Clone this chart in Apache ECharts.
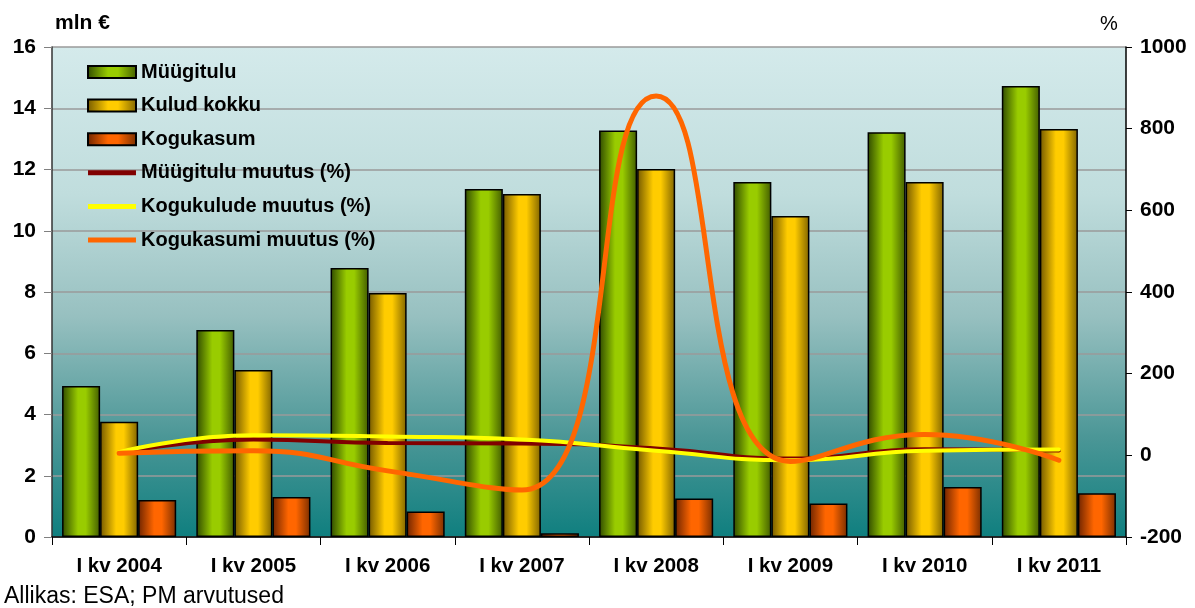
<!DOCTYPE html>
<html>
<head>
<meta charset="utf-8">
<script src="https://cdn.jsdelivr.net/npm/echarts@6/dist/echarts.min.js"></script>
<style>
html,body{margin:0;padding:0;background:#fff;}
#c{width:1195px;height:608px;}
</style>
</head>
<body>
<div id="c"></div>
<script>
const categories = ['I kv 2004','I kv 2005','I kv 2006','I kv 2007','I kv 2008','I kv 2009','I kv 2010','I kv 2011'];
const muugitulu = [4.93, 6.76, 8.78, 11.36, 13.27, 11.59, 13.22, 14.73];
const kuludKokku = [3.76, 5.45, 7.97, 11.20, 12.02, 10.48, 11.59, 13.32];
const kogukasum = [1.21, 1.31, 0.83, 0.12, 1.26, 1.09, 1.63, 1.43];
const muugituluMuutus = [6, 39, 30, 29, 17, -8, 15, 12];
const kogukuludeMuutus = [8, 49, 46, 39, 11, -12, 11, 14];
const kogukasumiMuutus = [5, 11, -38, -85, 880, -15, 51, -12];
const leftTicks = {min: 0, max: 16, interval: 2};
const rightTicks = {min: -200, max: 1000, interval: 200};

const G = echarts.graphic.LinearGradient;
function barGrad(dark1, bright, dark2) {
  return new G(0, 0, 1, 0, [
    {offset: 0, color: dark1},
    {offset: 0.42, color: bright},
    {offset: 0.62, color: bright},
    {offset: 1, color: dark2}
  ]);
}
const font = '"Liberation Sans", Arial, sans-serif';
const chart = echarts.init(document.getElementById('c'), null, {renderer: 'canvas'});
const barStyle = (c) => ({color: c, borderColor: '#000', borderWidth: 1.5});
const lineIcon = 'path://M0,0h0.01v0.01h-0.01z M0,3.5h48v5h-48z M0,12h0.01v0.01h-0.01z';

chart.setOption({
  animation: false,
  textStyle: {fontFamily: font},
  grid: {
    left: 52, right: 69, top: 47, bottom: 71, show: true, borderWidth: 0,
    backgroundColor: new G(0, 0, 0, 1, [
      {offset: 0, color: '#d4eaeb'},
      {offset: 0.3, color: '#c0dddd'},
      {offset: 0.55, color: '#97c0c0'},
      {offset: 0.8, color: '#4a9696'},
      {offset: 1, color: '#0f7f7f'}
    ])
  },
  legend: {
    orient: 'vertical', left: 87, top: 62, padding: 0, itemGap: 13.6,
    itemWidth: 48, itemHeight: 12,
    textStyle: {fontFamily: font, fontWeight: 'bold', fontSize: 20, color: '#000'},
    data: [
      {name: 'Müügitulu', icon: 'rect'},
      {name: 'Kulud kokku', icon: 'rect'},
      {name: 'Kogukasum', icon: 'rect'},
      {name: 'Müügitulu muutus (%)', icon: lineIcon, itemStyle: {color: '#800000', borderWidth: 0}},
      {name: 'Kogukulude muutus (%)', icon: lineIcon, itemStyle: {color: '#ffff00', borderWidth: 0}},
      {name: 'Kogukasumi muutus (%)', icon: lineIcon, itemStyle: {color: '#ff6600', borderWidth: 0}}
    ]
  },
  xAxis: {
    type: 'category', data: categories, boundaryGap: true,
    axisLine: {lineStyle: {color: '#000', width: 1.5}},
    axisTick: {show: true, length: 8, lineStyle: {color: '#000'}},
    axisLabel: {fontFamily: font, fontWeight: 'bold', fontSize: 20.5, color: '#000', margin: 19}
  },
  yAxis: [
    {
      type: 'value', min: leftTicks.min, max: leftTicks.max, interval: leftTicks.interval,
      axisLine: {show: true, lineStyle: {color: '#333', width: 1.5}},
      axisTick: {show: true, length: 8, lineStyle: {color: '#808080'}},
      axisLabel: {fontFamily: font, fontWeight: 'bold', fontSize: 21, color: '#000', margin: 16},
      splitLine: {show: true, lineStyle: {color: '#9a9a9a', width: 1.5}}
    },
    {
      type: 'value', min: rightTicks.min, max: rightTicks.max, interval: rightTicks.interval,
      axisLine: {show: true, lineStyle: {color: '#000', width: 1.5}},
      axisTick: {show: true, length: 6, lineStyle: {color: '#000'}},
      axisLabel: {fontFamily: font, fontWeight: 'bold', fontSize: 21, color: '#000', margin: 14,
        formatter: (v) => String(v)},
      splitLine: {show: false}
    }
  ],
  graphic: [
    {type: 'text', left: 55, top: 13, style: {text: 'mln €', font: 'bold 21px ' + font, fill: '#000'}},
    {type: 'text', left: 1100, top: 14, style: {text: '%', font: '20px ' + font, fill: '#000'}},
    {type: 'text', left: 4, top: 585, style: {text: 'Allikas: ESA; PM arvutused', font: '23px ' + font, fill: '#000'}}
  ],
  series: [
    {name: 'Müügitulu', type: 'bar', yAxisIndex: 0, data: muugitulu, barGap: '0%', barCategoryGap: '15%',
      itemStyle: barStyle(barGrad('#2f4a00', '#99cc00', '#425c00'))},
    {name: 'Kulud kokku', type: 'bar', yAxisIndex: 0, data: kuludKokku, barGap: '0%', barCategoryGap: '15%',
      itemStyle: barStyle(barGrad('#735800', '#ffcc00', '#806400'))},
    {name: 'Kogukasum', type: 'bar', yAxisIndex: 0, data: kogukasum, barGap: '0%', barCategoryGap: '15%',
      itemStyle: barStyle(barGrad('#6e2400', '#ff6600', '#7a2e00'))},
    {name: 'Müügitulu muutus (%)', type: 'line', yAxisIndex: 1, data: muugituluMuutus, smooth: true,
      symbol: 'none', lineStyle: {color: '#800000', width: 4, cap: 'round'}, itemStyle: {color: '#800000'}, z: 3},
    {name: 'Kogukulude muutus (%)', type: 'line', yAxisIndex: 1, data: kogukuludeMuutus, smooth: true,
      symbol: 'none', lineStyle: {color: '#ffff00', width: 4, cap: 'round'}, itemStyle: {color: '#ffff00'}, z: 4},
    {name: 'Kogukasumi muutus (%)', type: 'line', yAxisIndex: 1, data: kogukasumiMuutus, smooth: true,
      symbol: 'none', lineStyle: {color: '#ff6600', width: 5, cap: 'round'}, itemStyle: {color: '#ff6600'}, z: 5}
  ]
});
</script>
</body>
</html>
